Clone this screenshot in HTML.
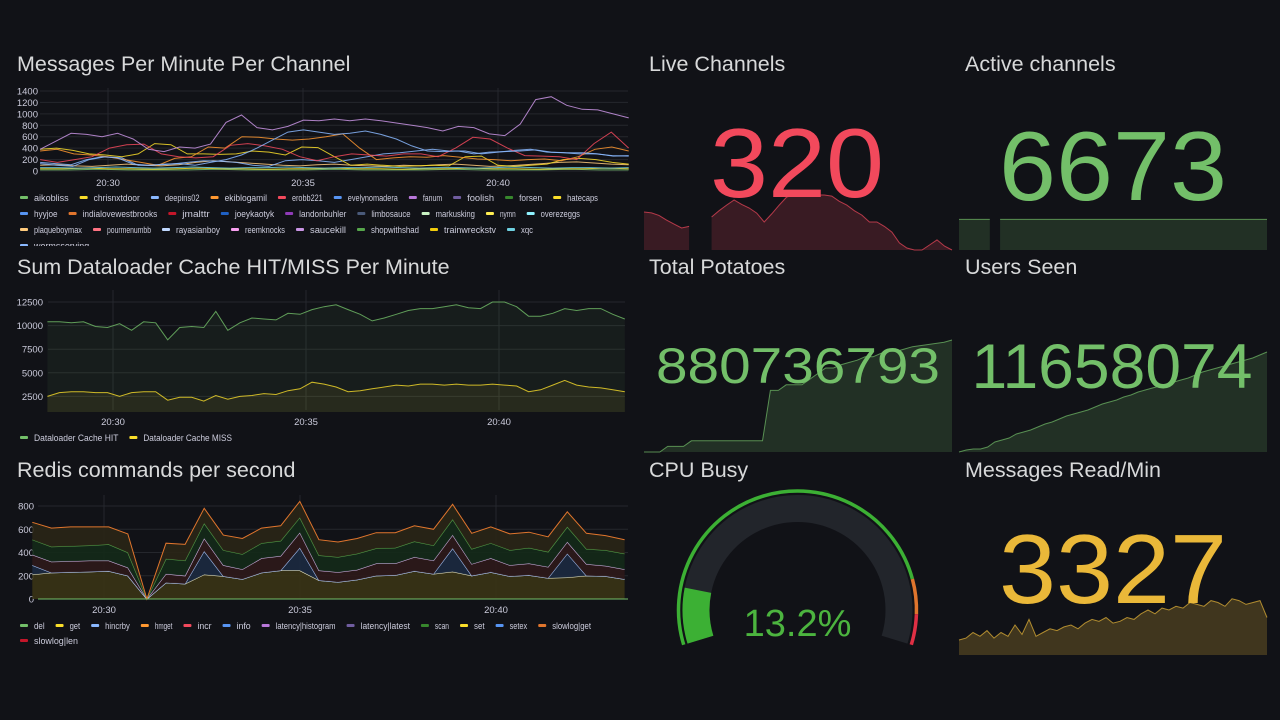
<!DOCTYPE html>
<html><head><meta charset="utf-8">
<style>
html,body{margin:0;padding:0;background:#111217;}
svg{display:block;font-family:"Liberation Sans",sans-serif;}
</style></head>
<body>
<svg id="dash" width="1280" height="720" viewBox="0 0 1280 720" xmlns="http://www.w3.org/2000/svg">
<defs><clipPath id="c1clip"><rect x="0" y="80" width="640" height="166"/></clipPath></defs>
<rect x="0" y="0" width="1280" height="720" fill="#111217"/>
<g fill="#d8d9da" font-size="21.5">
<text x="17" y="71">Messages Per Minute Per Channel</text>
<text x="17" y="274">Sum Dataloader Cache HIT/MISS Per Minute</text>
<text x="17" y="477">Redis commands per second</text>
<text x="649" y="71">Live Channels</text>
<text x="965" y="71">Active channels</text>
<text x="649" y="274">Total Potatoes</text>
<text x="965" y="274">Users Seen</text>
<text x="649" y="477">CPU Busy</text>
<text x="965" y="477">Messages Read/Min</text>
</g>
<g id="layer"></g>
</svg>
<script>
// ---------- Chart 1 data ----------
const c1Ticks = [0,200,400,600,800,1000,1200,1400];
const c1TimeLabels = ["20:30","20:35","20:40"];
const c1Names = ["fanum","foolish","erobb221","ekiblogamil","trainwreckstv","rayasianboy","nymn","xqc","chrisnxtdoor","aikobliss"];
const c1Colors = ["#ca95e5","#8ab8ff","#f2495c","#ff9830","#fade2a","#8ab8ff","#ffcb7d","#6ed0e0","#fade2a","#73bf69"];
const fanum = [380,520,660,640,600,660,560,380,340,420,400,470,850,980,760,720,780,890,880,910,880,910,880,840,800,760,700,780,760,650,620,820,1250,1300,1150,1080,1070,1000,930];
const foolish = [150,130,110,200,250,230,120,100,120,130,100,150,200,280,400,540,680,720,680,640,660,700,640,560,440,350,340,350,300,330,340,350,370,330,320,320,300,260,270];
const erobb221 = [200,150,200,250,400,460,470,300,250,230,250,450,480,440,380,250,180,250,300,280,260,300,300,250,400,590,560,400,270,260,250,200,480,680,400];
const ekiblogamil = [350,380,300,280,250,200,150,100,220,250,420,400,600,590,560,540,560,600,650,400,200,230,250,240,270,240,210,200,180,200,210,180,250,380,420,350];
const trainwreckstv = [380,400,360,300,280,250,300,480,460,300,300,290,300,350,330,280,420,410,250,100,120,100,80,90,100,90,250,260,100,80,100,120,200,220,200,150,120];
const rayasianboy = [130,100,80,200,250,230,100,100,120,150,180,170,150,100,80,180,200,180,150,200,250,300,320,350,380,350,350,300,330,360,380,330,320,300,300,270,260];
const nymn = [100,110,90,80,100,120,100,90,110,150,180,160,140,120,100,90,110,120,100,90,80,100,90,110,120,100,80,90,110,130,150,160,140,120,110];
const xqc = [60,60,50,60,70,60,50,60,70,60,50,60,60,70,60,50,60,60,70,60,50,60,60,50,60,70,60,50,60,60,50,60];
const chrisnxtdoor = [40,40,50,40,40,30,40,50,40,40,30,40,40,50,40,40,30,40,40,50,40,40,30,40,40,50,40];
const aikobliss = [20,20,30,20,20,20,30,20,20,20,30,20,20,20,30,20,20,20,30,20,20];
const c1Series = [fanum,foolish,erobb221,ekiblogamil,trainwreckstv,rayasianboy,nymn,xqc,chrisnxtdoor,aikobliss];
const c1Legend = ["aikobliss","chrisnxtdoor","deepins02","ekiblogamil","erobb221","evelynomadera","fanum","foolish","forsen","hatecaps","hyyjoe","indialovewestbrooks","jmalttr","joeykaotyk","landonbuhler","limbosauce","markusking","nymn","overezeggs","plaqueboymax","pourmenumbb","rayasianboy","reemknocks","saucekill","shopwithshad","trainwreckstv","xqc","wormsserving"];
const c1LegendColors = ["#73bf69","#fade2a","#8ab8ff","#ff9830","#f2495c","#5794f2","#b877d9","#705da0","#37872d","#fade2a","#5794f2","#e0752d","#c4162a","#1f60c4","#8f3bb8","#4a5a7a","#c8f2c2","#ffee52","#8ff2ff","#ffcb7d","#ff7383","#c0d8ff","#f8a0f0","#ca95e5","#56a64b","#f2cc0c","#6ed0e0","#8ab8ff"];

// ---------- Chart 2 data ----------
const c2Ticks = [2500,5000,7500,10000,12500];
const c2TimeLabels = ["20:30","20:35","20:40"];
const cacheHit = [10400,10400,10300,10400,9900,9800,10200,9500,10400,10300,8500,9800,9900,9800,11500,9500,10300,10800,10700,10600,11300,11200,11700,12000,12200,11700,11200,10500,10800,11200,11600,11800,11800,12000,12200,11900,11800,12500,12500,12000,11000,11000,11300,11800,11600,11800,11800,11200,10700];
const cacheMiss = [2500,2900,3000,3000,2900,2900,2500,2900,3000,3000,2100,2400,2400,2000,2600,2200,2500,2600,2800,2700,3100,3300,4000,3800,3500,3000,3100,3300,3500,3700,3600,3800,3800,3700,3800,3700,3700,3800,3700,3600,3000,3200,3700,4200,3700,3500,3400,3200,3000];

// ---------- Chart 3 data ----------
const c3Ticks = [0,200,400,600,800];
const c3TimeLabels = ["20:30","20:35","20:40"];
const redisGet = [210,225,230,235,240,200,0,140,130,210,195,170,225,245,245,160,145,165,200,205,240,215,235,200,230,195,205,180,185,200,195,170];
const redisInfo = [80,0,0,0,0,0,0,0,0,200,0,0,0,0,195,0,0,0,0,0,0,0,200,0,0,0,0,0,205,0,0,0];
const redisLatency = [90,95,95,95,90,70,0,75,70,110,95,85,125,125,130,85,85,85,105,100,120,115,115,100,120,95,100,95,100,100,90,85];
const redisScan = [130,130,130,130,140,130,0,130,130,130,130,130,130,130,130,130,130,140,130,135,135,130,135,130,130,130,135,130,130,130,135,135];
const redisSlowlog = [150,160,165,160,150,160,0,135,140,130,130,135,130,130,140,135,130,130,135,130,135,140,130,135,140,140,135,130,130,135,125,120];
const c3Legend = ["del","get","hincrby","hmget","incr","info","latency|histogram","latency|latest","scan","set","setex","slowlog|get","slowlog|len"];
const c3LegendColors = ["#73bf69","#fade2a","#8ab8ff","#ff9830","#f2495c","#5794f2","#b877d9","#705da0","#37872d","#fade2a","#5794f2","#e0752d","#c4162a"];

// ---------- Stat data ----------
const liveChannelsValue = "320";
const liveSpark = [242,236,220,190,165,140,150,null,null,210,250,286,318,290,267,235,178,230,286,337,350,350,350,350,350,343,310,286,250,222,178,178,150,114,45,13,0,0,32,64,25,0];
const activeChannelsValue = "6673";
const activeSpark = [6673,6673,6673,6673,6673,6673,6673,null,6673,6673,6673,6673,6673,6673,6673,6673,6673,6673,6673,6673,6673,6673,6673,6673,6673,6673,6673,6673,6673,6673,6673,6673,6673,6673,6673,6673,6673,6673,6673,6673,6673,6673,6673,6673,6673,6673,6673,6673,6673,6673,6673,6673,6673,6673,6673,6673,6673,6673,6673,6673,6673];
const totalPotatoesValue = "880736793";
const potatoSpark = [0,0,0,5,5,5,10,10,10,10,10,10,10,10,10,10,55,55,60,60,60,65,70,75,75,78,80,82,85,85,88,90,90,92,94,95,96,97,98,100];
const usersSeenValue = "11658074";
const usersSpark = [0,2,3,3,5,10,12,14,18,20,22,25,28,30,33,36,38,40,42,45,48,50,52,55,57,60,62,64,66,68,70,72,74,77,80,82,84,86,88,90,92,94,97,100];
const cpuBusyValue = 13.2;
const messagesReadValue = "3327";
const msgSpark = [40,45,60,50,65,45,60,50,80,55,95,50,60,70,65,75,80,70,85,95,90,100,85,90,100,95,110,120,110,125,120,130,125,140,135,130,145,140,130,150,145,135,140,145,100];

// ---------- helpers ----------
const NS = "http://www.w3.org/2000/svg";
const layer = document.getElementById('layer');
function mk(tag, attrs, parent) {
  const e = document.createElementNS(NS, tag);
  for (const k in attrs) e.setAttribute(k, attrs[k]);
  (parent || layer).appendChild(e);
  return e;
}
function pathFrom(vals, xs, ys) {
  return vals.map((v,i)=>(i?'L':'M')+xs(i).toFixed(1)+' '+ys(v).toFixed(1)).join(' ');
}
function yAxis(ticks, ys, x0, x1, labelX, g) {
  ticks.forEach(t=>{
    const l = mk('line',{x1:x0,x2:x1,y1:ys(t),y2:ys(t),stroke:'#25272d','stroke-width':1},g);
    
    
    const tx = mk('text',{x:labelX,y:ys(t)+3.5,'text-anchor':'end',fill:'#ccccdc','font-size':9.5},g);
    tx.textContent = t;
    
    
  });
}
function xAxis(labels, minutes, xt, y0, y1, labelY, g) {
  labels.forEach((lab,i)=>{
    const x = xt(minutes[i]);
    const l = mk('line',{x1:x,x2:x,y1:y0,y2:y1,stroke:'#25272d'},g);
    
    
    const tx = mk('text',{x:x,y:labelY,'text-anchor':'middle',fill:'#ccccdc','font-size':9.5},g);
    tx.textContent = lab;
    
    
  });
}
// rows: item counts per row; ends: right x of last text in each row
function legend(names, colors, x0, y0, rows, ends, rowH, g) {
  let idx = 0, y = y0;
  rows.forEach((cnt, r)=>{
    const items = names.slice(idx, idx+cnt);
    const chars = items.reduce((s,n)=>s+n.length,0);
    const gap = 25;
    let a = (ends[r] - x0 - cnt*gap + (gap-14)) / chars;
    a = Math.min(a, 4.6);
    let x = x0;
    items.forEach((n,k)=>{
      const i = idx+k;
      const item = mk('g',{},g);
      
      
      mk('rect',{x:x,y:y-3,width:8,height:3,rx:1,fill:colors[i]},item);
      const t = mk('text',{x:x+14,y:y+2,fill:'#ccccdc','font-size':9,textLength:(n.length*a).toFixed(1),lengthAdjust:'spacingAndGlyphs'},item);
      t.textContent = n;
      x += n.length*a + gap;
    });
    idx += cnt;
    y += rowH;
  });
}
const timeMarks = [30,35,40];

// ---------- Chart 1 ----------
(function(){
  const g = mk('g',{});
  
  
  const xt = t => 108 + (t-30)*39;
  const t0 = 28.26, t1 = 43.35;
  const ys = v => 171 - v*(80/1400);
  yAxis(c1Ticks, ys, 40, 628, 38, g);
  xAxis(c1TimeLabels, timeMarks, xt, 88, 171, 186, g);
  c1Series.slice().reverse().forEach((s,ri)=>{
    const i = c1Series.length-1-ri;
    const xs = k => xt(t0 + k*(t1-t0)/(s.length-1));
    const p = mk('path',{d:pathFrom(s,xs,ys),fill:'none',stroke:c1Colors[i],'stroke-width':1,opacity:0.85},g);
    
    
  });
  const lg = mk('g',{'clip-path':'url(#c1clip)'},g);
  
  
  legend(c1Legend, c1LegendColors, 20, 199, [10,9,8,1], [598,580,533,95], 16, lg);
})();

// ---------- Chart 2 ----------
(function(){
  const g = mk('g',{});
  
  
  const xt = t => 113 + (t-30)*38.6;
  const t0 = 28.3, t1 = 43.26;
  const ys = v => 420 - v*(118/12500);
  yAxis(c2Ticks, ys, 48, 625, 43, g);
  xAxis(c2TimeLabels, timeMarks, xt, 290, 410, 425, g);
  [[cacheHit,'#73bf69','hit'],[cacheMiss,'#fade2a','miss']].forEach(([s,c,n])=>{
    const xs = k => xt(t0 + k*(t1-t0)/(s.length-1));
    const d = pathFrom(s,xs,ys);
    const a = mk('path',{d:d+' L'+xs(s.length-1)+' 412 L'+xs(0)+' 412 Z',fill:c,opacity:0.07},g);
    
    
    const p = mk('path',{d:d,fill:'none',stroke:c,'stroke-width':1,opacity:0.8},g);
    
    
  });
  legend(["Dataloader Cache HIT","Dataloader Cache MISS"],["#73bf69","#fade2a"],20,439,[2],[232],16,g);
})();

// ---------- Chart 3 ----------
(function(){
  const g = mk('g',{});
  
  
  const xt = t => 104 + (t-30)*39.2;
  const t0 = 28.17, t1 = 43.28;
  const ys = v => 599 - v*(93/800);
  yAxis(c3Ticks, ys, 38, 628, 34, g);
  xAxis(c3TimeLabels, timeMarks, xt, 495, 599, 613, g);
  const layers = [[redisGet,'#fade2a','#f4f0c8','get'],[redisInfo,'#5794f2','#a8c8ff','info'],[redisLatency,'#b877d9','#d8b8f0','latency-histogram'],[redisScan,'#37872d','#56a64b','scan'],[redisSlowlog,'#e0752d','#e0752d','slowlog-get']];
  let base = redisGet.map(()=>0);
  const n = redisGet.length;
  const xs = k => xt(t0 + k*(t1-t0)/(n-1));
  const fills = ['#3a3415','#1c2a40','#2e1a1a','#142a18','#2a2616'];
  layers.forEach(([s,c,lc,name],li)=>{
    const top = base.map((b,i)=>b+s[i]);
    let d = pathFrom(top,xs,ys);
    for (let i=n-1;i>=0;i--) d += ' L'+xs(i).toFixed(1)+' '+ys(base[i]).toFixed(1);
    const a = mk('path',{d:d+' Z',fill:fills[li],opacity:0.9},g);
    
    
    const p = mk('path',{d:pathFrom(top,xs,ys),fill:'none',stroke:lc,'stroke-width':1},g);
    
    
    base = top;
  });
  const zl = mk('line',{x1:38,x2:628,y1:599,y2:599,stroke:'#73bf69','stroke-width':1},g);
  
  
  legend(c3Legend, c3LegendColors, 20, 627, [12,1], [591,78], 15, g);
})();

// ---------- Stat panels ----------
function spark(vals, x0, x1, yb, yt, vmin, vmax, color, fillOp, name) {
  const step = (x1-x0)/(vals.length-1);
  const ys = v => yb - (v-vmin)/(vmax-vmin)*(yb-yt);
  let segs = [], cur = [];
  vals.forEach((v,i)=>{ if (v===null){ if(cur.length) segs.push(cur); cur=[]; } else cur.push([x0+i*step, ys(v)]); });
  if (cur.length) segs.push(cur);
  segs.forEach(sg=>{
    const d = sg.map((p,i)=>(i?'L':'M')+p[0].toFixed(1)+' '+p[1].toFixed(1)).join(' ');
    const a = mk('path',{d:d+' L'+sg[sg.length-1][0].toFixed(1)+' '+yb+' L'+sg[0][0].toFixed(1)+' '+yb+' Z',fill:color,opacity:fillOp});
    
    
    const p = mk('path',{d:d,fill:'none',stroke:color,'stroke-width':1,opacity:0.7});
    
    
  });
}
function bigText(txt,x,y,size,len,color,name){
  const t = mk('text',{x:x,y:y,'text-anchor':'middle',fill:color,'font-size':size,textLength:len,lengthAdjust:'spacingAndGlyphs'});
  t.textContent = txt;
  
  
}
spark(liveSpark,644,952,250,195,0,350,'#f2495c',0.18,'live-channels');
bigText(liveChannelsValue,797,197,98,174,'#f2495c','live-channels-value');
spark(activeSpark,959,1267,250,195,0,12000,'#73bf69',0.18,'active-channels');
bigText(activeChannelsValue,1113,200,98,228,'#73bf69','active-channels-value');
spark(potatoSpark,644,952,452,340,0,100,'#73bf69',0.18,'total-potatoes');
bigText(totalPotatoesValue,798,383,50,284,'#73bf69','total-potatoes-value');
spark(usersSpark,959,1267,452,352,0,100,'#73bf69',0.18,'users-seen');
bigText(usersSeenValue,1112,388,63,281,'#73bf69','users-seen-value');
spark(msgSpark,959,1267,655,595,0,160,'#eab839',0.22,'messages-read');
bigText(messagesReadValue,1113,603,98,228,'#eab839','messages-read-value');

// ---------- Gauge ----------
(function(){
  const g = mk('g',{});
  
  
  const cx = 797.5, cy = 610;
  const start = 197, sweep = 214;
  const pt = (a,r)=>[cx + r*Math.cos(a*Math.PI/180), cy - r*Math.sin(a*Math.PI/180)];
  function arc(a0,a1,r,color,w,name){
    const [x0,y0]=pt(a0,r),[x1,y1]=pt(a1,r);
    const large = Math.abs(a0-a1)>180?1:0;
    const p = mk('path',{d:`M${x0} ${y0} A${r} ${r} 0 ${large} 1 ${x1} ${y1}`,fill:'none',stroke:color,'stroke-width':w},g);
    
    
  }
  arc(start,start-sweep,101.5,'#22252b',27,'gauge-track');
  arc(start,start-sweep*cpuBusyValue/100,101.5,'#3cb034',27,'gauge-value-fill');
  arc(start,start-sweep*0.85,119,'#3cb034',3.5,'threshold-green');
  arc(start-sweep*0.85,start-sweep*0.93,119,'#e0752d',3.5,'threshold-orange');
  arc(start-sweep*0.93,start-sweep,119,'#e02f44',3.5,'threshold-red');
  const t = mk('text',{x:cx,y:636,'text-anchor':'middle',fill:'#4cb43f','font-size':38},g);
  t.textContent = cpuBusyValue.toFixed(1)+'%';
  
  
})();
</script>
</body></html>
